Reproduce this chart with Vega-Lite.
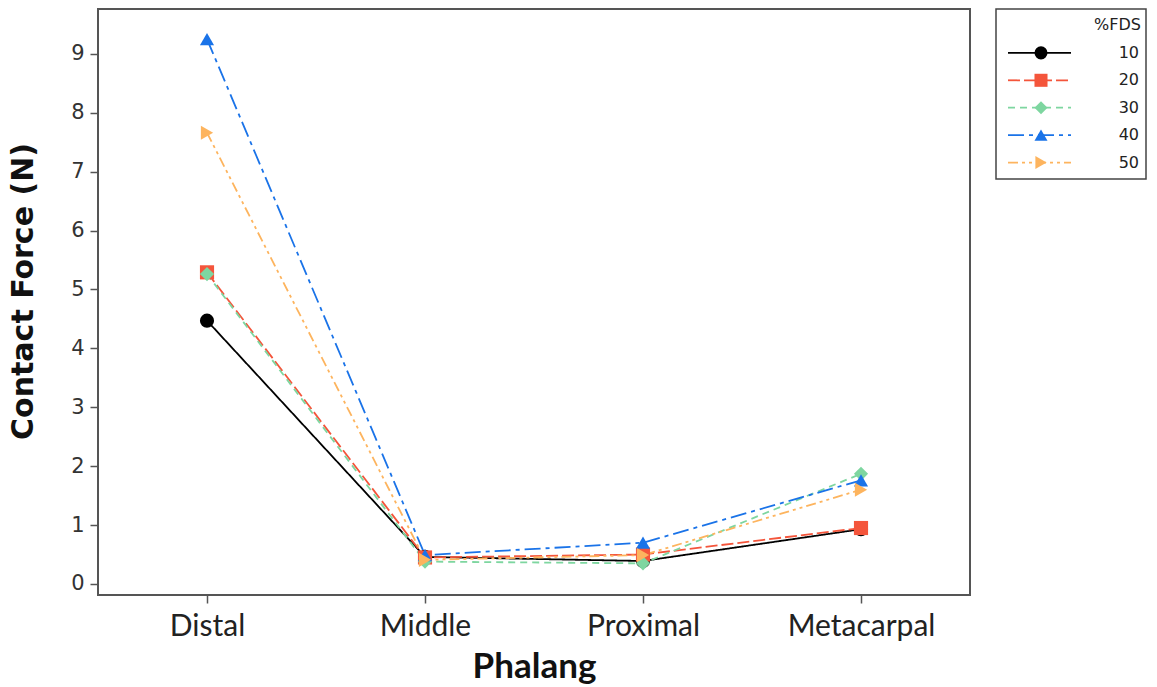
{
  "$schema": "https://vega.github.io/schema/vega-lite/v6.json",
  "background": "white",
  "padding": {"top": 8, "left": 7, "right": 5, "bottom": 2},
  "datasets": {
    "main": [
      {"Phalang": "Distal", "FDS": "10", "Force": 4.47},
      {"Phalang": "Distal", "FDS": "20", "Force": 5.29},
      {"Phalang": "Distal", "FDS": "30", "Force": 5.26},
      {"Phalang": "Distal", "FDS": "40", "Force": 9.25},
      {"Phalang": "Distal", "FDS": "50", "Force": 7.66},
      {"Phalang": "Middle", "FDS": "10", "Force": 0.46},
      {"Phalang": "Middle", "FDS": "20", "Force": 0.45},
      {"Phalang": "Middle", "FDS": "30", "Force": 0.38},
      {"Phalang": "Middle", "FDS": "40", "Force": 0.49},
      {"Phalang": "Middle", "FDS": "50", "Force": 0.41},
      {"Phalang": "Proximal", "FDS": "10", "Force": 0.39},
      {"Phalang": "Proximal", "FDS": "20", "Force": 0.5},
      {"Phalang": "Proximal", "FDS": "30", "Force": 0.35},
      {"Phalang": "Proximal", "FDS": "40", "Force": 0.7},
      {"Phalang": "Proximal", "FDS": "50", "Force": 0.49},
      {"Phalang": "Metacarpal", "FDS": "10", "Force": 0.93},
      {"Phalang": "Metacarpal", "FDS": "20", "Force": 0.95},
      {"Phalang": "Metacarpal", "FDS": "30", "Force": 1.87},
      {"Phalang": "Metacarpal", "FDS": "40", "Force": 1.76},
      {"Phalang": "Metacarpal", "FDS": "50", "Force": 1.6}
    ],
    "groups": [
      {"FDS": "10"}, {"FDS": "20"}, {"FDS": "30"}, {"FDS": "40"}, {"FDS": "50"}
    ],
    "heading": [
      {"FDS": "%FDS"}
    ]
  },
  "spacing": 24,
  "hconcat": [
    {
      "width": 872,
      "height": 586,
      "view": {"stroke": "#555555", "strokeWidth": 2},
      "data": {"name": "main"},
      "encoding": {
        "x": {
          "field": "Phalang",
          "type": "nominal",
          "sort": ["Distal", "Middle", "Proximal", "Metacarpal"],
          "scale": {"type": "point", "padding": 0.5},
          "axis": {
            "title": "Phalang",
            "titleFont": "Lato",
            "titleFontSize": 35,
            "titleFontWeight": "bold",
            "titleColor": "#111111",
            "titlePadding": 8,
            "labelFont": "Lato",
            "labelFontSize": 30,
            "labelColor": "#222222",
            "labelPadding": 8,
            "labelAngle": 0,
            "domain": false,
            "ticks": true,
            "tickColor": "#555555",
            "tickSize": 8,
            "tickWidth": 1.5,
            "grid": false
          }
        },
        "y": {
          "field": "Force",
          "type": "quantitative",
          "scale": {"domain": [-0.187, 9.76], "nice": false, "zero": false},
          "axis": {
            "title": "Contact Force (N)",
            "titleFont": "DejaVu Sans",
            "titleFontSize": 30,
            "titleFontWeight": "bold",
            "titleColor": "#111111",
            "titlePadding": 32,
            "titleY": 282,
            "labelFont": "DejaVu Sans",
            "labelFontSize": 21,
            "labelColor": "#333333",
            "labelPadding": 6,
            "values": [0, 1, 2, 3, 4, 5, 6, 7, 8, 9],
            "domain": false,
            "tickColor": "#555555",
            "tickSize": 8,
            "tickWidth": 1.5,
            "grid": false
          }
        },
        "color": {
          "field": "FDS",
          "type": "nominal",
          "scale": {
            "domain": ["10", "20", "30", "40", "50"],
            "range": ["#000000", "#F4553B", "#7ED6A0", "#1A73E8", "#FDB45E"]
          },
          "legend": null
        }
      },
      "layer": [
        {
          "mark": {"type": "line", "strokeWidth": 1.8},
          "encoding": {
            "strokeDash": {
              "field": "FDS",
              "type": "nominal",
              "scale": {
                "domain": ["10", "20", "30", "40", "50"],
                "range": [[1, 0], [12, 4], [7, 5], [16, 5, 4, 5], [10, 4, 3, 4, 3, 4]]
              },
              "legend": null
            }
          }
        },
        {
          "mark": {"type": "point", "filled": true, "opacity": 1, "size": 200},
          "encoding": {
            "shape": {
              "field": "FDS",
              "type": "nominal",
              "scale": {
                "domain": ["10", "20", "30", "40", "50"],
                "range": ["circle", "square", "diamond", "triangle-up", "triangle-right"]
              },
              "legend": null
            }
          }
        }
      ]
    },
    {
      "width": 150,
      "height": 170,
      "view": {"stroke": "#444444", "strokeWidth": 1.5},
      "data": {"name": "groups"},
      "layer": [
        {
          "mark": {"type": "rule", "strokeWidth": 1.8},
          "encoding": {
            "x": {"datum": 12, "type": "quantitative", "scale": {"domain": [0, 150], "nice": false, "zero": false}, "axis": null},
            "x2": {"datum": 75},
            "y": {
              "field": "FDS",
              "type": "ordinal",
              "scale": {"type": "point", "domain": ["%FDS", "10", "20", "30", "40", "50"], "padding": 0.6},
              "axis": null
            },
            "color": {
              "field": "FDS",
              "type": "nominal",
              "scale": {
                "domain": ["10", "20", "30", "40", "50"],
                "range": ["#000000", "#F4553B", "#7ED6A0", "#1A73E8", "#FDB45E"]
              },
              "legend": null
            },
            "strokeDash": {
              "field": "FDS",
              "type": "nominal",
              "scale": {
                "domain": ["10", "20", "30", "40", "50"],
                "range": [[1, 0], [12, 4], [7, 5], [16, 5, 4, 5], [10, 4, 3, 4, 3, 4]]
              },
              "legend": null
            }
          }
        },
        {
          "mark": {"type": "point", "filled": true, "opacity": 1, "size": 170},
          "encoding": {
            "x": {"datum": 45, "type": "quantitative", "scale": {"domain": [0, 150], "nice": false, "zero": false}, "axis": null},
            "y": {"field": "FDS", "type": "ordinal"},
            "color": {
              "field": "FDS",
              "type": "nominal",
              "scale": {
                "domain": ["10", "20", "30", "40", "50"],
                "range": ["#000000", "#F4553B", "#7ED6A0", "#1A73E8", "#FDB45E"]
              },
              "legend": null
            },
            "shape": {
              "field": "FDS",
              "type": "nominal",
              "scale": {
                "domain": ["10", "20", "30", "40", "50"],
                "range": ["circle", "square", "diamond", "triangle-up", "triangle-right"]
              },
              "legend": null
            }
          }
        },
        {
          "mark": {"type": "text", "align": "right", "baseline": "middle", "font": "DejaVu Sans", "fontSize": 16, "fontWeight": "normal", "color": "#222222"},
          "encoding": {
            "x": {"datum": 143, "type": "quantitative", "scale": {"domain": [0, 150], "nice": false, "zero": false}, "axis": null},
            "y": {"field": "FDS", "type": "ordinal"},
            "text": {"field": "FDS"}
          }
        },
        {
          "data": {"name": "heading"},
          "mark": {"type": "text", "align": "right", "baseline": "middle", "font": "DejaVu Sans", "fontSize": 16, "fontWeight": "normal", "color": "#222222"},
          "encoding": {
            "x": {"datum": 145, "type": "quantitative", "scale": {"domain": [0, 150], "nice": false, "zero": false}, "axis": null},
            "y": {"field": "FDS", "type": "ordinal"},
            "text": {"field": "FDS"}
          }
        }
      ]
    }
  ]
}
